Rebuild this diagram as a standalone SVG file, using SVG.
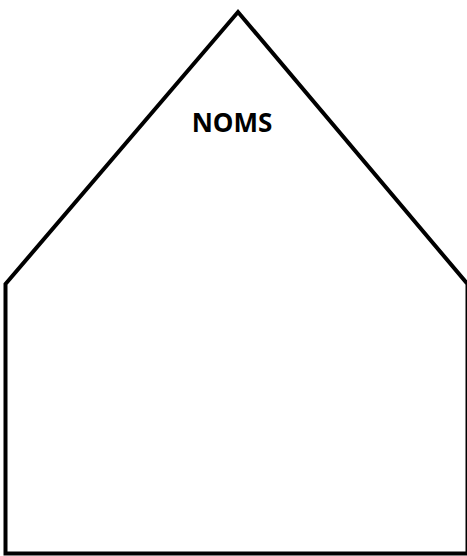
<svg xmlns="http://www.w3.org/2000/svg" width="467" height="556" viewBox="0 0 467 556">
<style>
.outline{fill:#ffffff;stroke:#000000;stroke-width:4;stroke-linejoin:miter}
.label{font-family:"Open Sans","Liberation Sans",sans-serif;font-weight:bold;font-size:26px;fill:#000000;text-anchor:middle}
</style>
<rect width="467" height="556" fill="#ffffff"/>
<g id="house">
<polygon class="outline" points="5.5,284 238,12 467.5,284 467.5,553.5 5.5,553.5"/>
<text class="label" x="232" y="132">NOMS</text>
</g>
</svg>
